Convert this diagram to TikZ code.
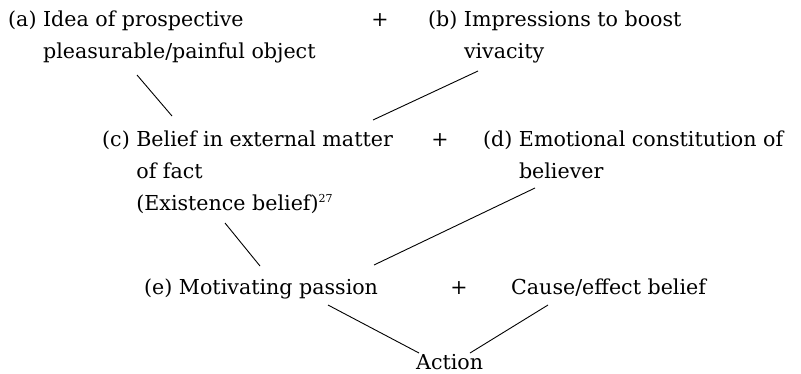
\documentclass[tikz,border=0pt]{standalone}
\usepackage{fontspec}
\setmainfont{DejaVu Serif}
\begin{document}
\begin{tikzpicture}[x=1pt,y=-1pt,
  lbl/.style={anchor=base west,inner sep=0pt,font=\fontsize{20.6}{32}\selectfont},
  plus/.style={anchor=base,inner sep=0pt,font=\fontsize{20.6}{32}\selectfont},
  conn/.style={line width=0.9pt}]
\useasboundingbox (0,0) rectangle (801,373);
\newcommand\hang[3]{\begin{tabular}[t]{@{}l@{ }l@{}}#1&#2\\&#3\end{tabular}}
\node[lbl] (a) at (8,26) {\hang{(a)}{Idea of prospective}{pleasurable/painful object}};
\node[plus] (p1) at (380,26) {+};
\node[lbl] (b) at (428,26) {\hang{(b)}{Impressions to boost}{vivacity}};
\node[lbl] (c) at (102,146) {\begin{tabular}[t]{@{}l@{ }l@{}}(c)&Belief in external matter\\&of fact\\&(Existence belief)\textsuperscript{\fontsize{11}{12}\selectfont 27}\end{tabular}};
\node[plus] (p2) at (440,146) {+};
\node[lbl] (d) at (483,146) {\hang{(d)}{Emotional constitution of}{believer}};
\node[lbl] (e) at (144,294) {(e) Motivating passion};
\node[plus] (p3) at (459,294) {+};
\node[lbl] (f) at (511,294) {Cause/effect belief};
\node[lbl] (act) at (416,369) {Action};
\coordinate (a1) at (137,75);  \coordinate (c1) at (172,116);
\coordinate (b1) at (478,71);  \coordinate (c2) at (373,120);
\coordinate (c3) at (225,223); \coordinate (e1) at (260,266);
\coordinate (d1) at (535,188); \coordinate (e2) at (374,265);
\coordinate (e3) at (328,305); \coordinate (x1) at (419,353);
\coordinate (f1) at (548,305); \coordinate (x2) at (470,353);
\draw[conn] (a1) -- (c1);
\draw[conn] (b1) -- (c2);
\draw[conn] (c3) -- (e1);
\draw[conn] (d1) -- (e2);
\draw[conn] (e3) -- (x1);
\draw[conn] (f1) -- (x2);
\end{tikzpicture}
\end{document}
